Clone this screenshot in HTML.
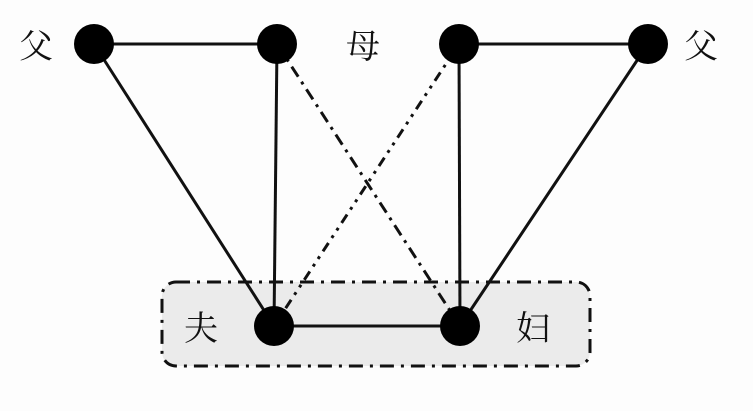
<!DOCTYPE html>
<html><head><meta charset="utf-8"><style>
html,body{margin:0;padding:0;background:#fdfdfd;width:753px;height:411px;overflow:hidden}
text{font-family:"Liberation Serif","Noto Serif CJK SC",serif;font-size:34px;fill:#111}
</style></head><body>
<svg width="753" height="411" viewBox="0 0 753 411" xmlns="http://www.w3.org/2000/svg">
<rect x="162" y="282" width="428" height="84" rx="14" fill="#ebebeb" stroke="#111" stroke-width="3" stroke-dasharray="14,7,3,7"/>
<g stroke="#111" stroke-width="3" fill="none">
<line x1="94" y1="44" x2="277" y2="44"/>
<line x1="459" y1="44" x2="648" y2="44"/>
<line x1="94" y1="44" x2="274" y2="326"/>
<line x1="277" y1="44" x2="274" y2="326"/>
<line x1="459" y1="44" x2="460" y2="326"/>
<line x1="648" y1="44" x2="460" y2="326"/>
<line x1="274" y1="326" x2="460" y2="326"/>
<line x1="277" y1="44" x2="460" y2="326" stroke-dasharray="12,6,3,6"/>
<line x1="459" y1="44" x2="274" y2="326" stroke-dasharray="10,6,3,6,3,6"/>
</g>
<g fill="#000">
<circle cx="94" cy="44" r="20"/>
<circle cx="277" cy="44" r="20"/>
<circle cx="459" cy="44" r="20"/>
<circle cx="648" cy="44" r="20"/>
<circle cx="274" cy="326" r="20"/>
<circle cx="460" cy="326" r="20"/>
</g>
<text x="19" y="58">父</text>
<text x="346" y="58">母</text>
<text x="684" y="58">父</text>
<text x="184" y="340">夫</text>
<text x="516" y="340">妇</text>
</svg>
</body></html>
